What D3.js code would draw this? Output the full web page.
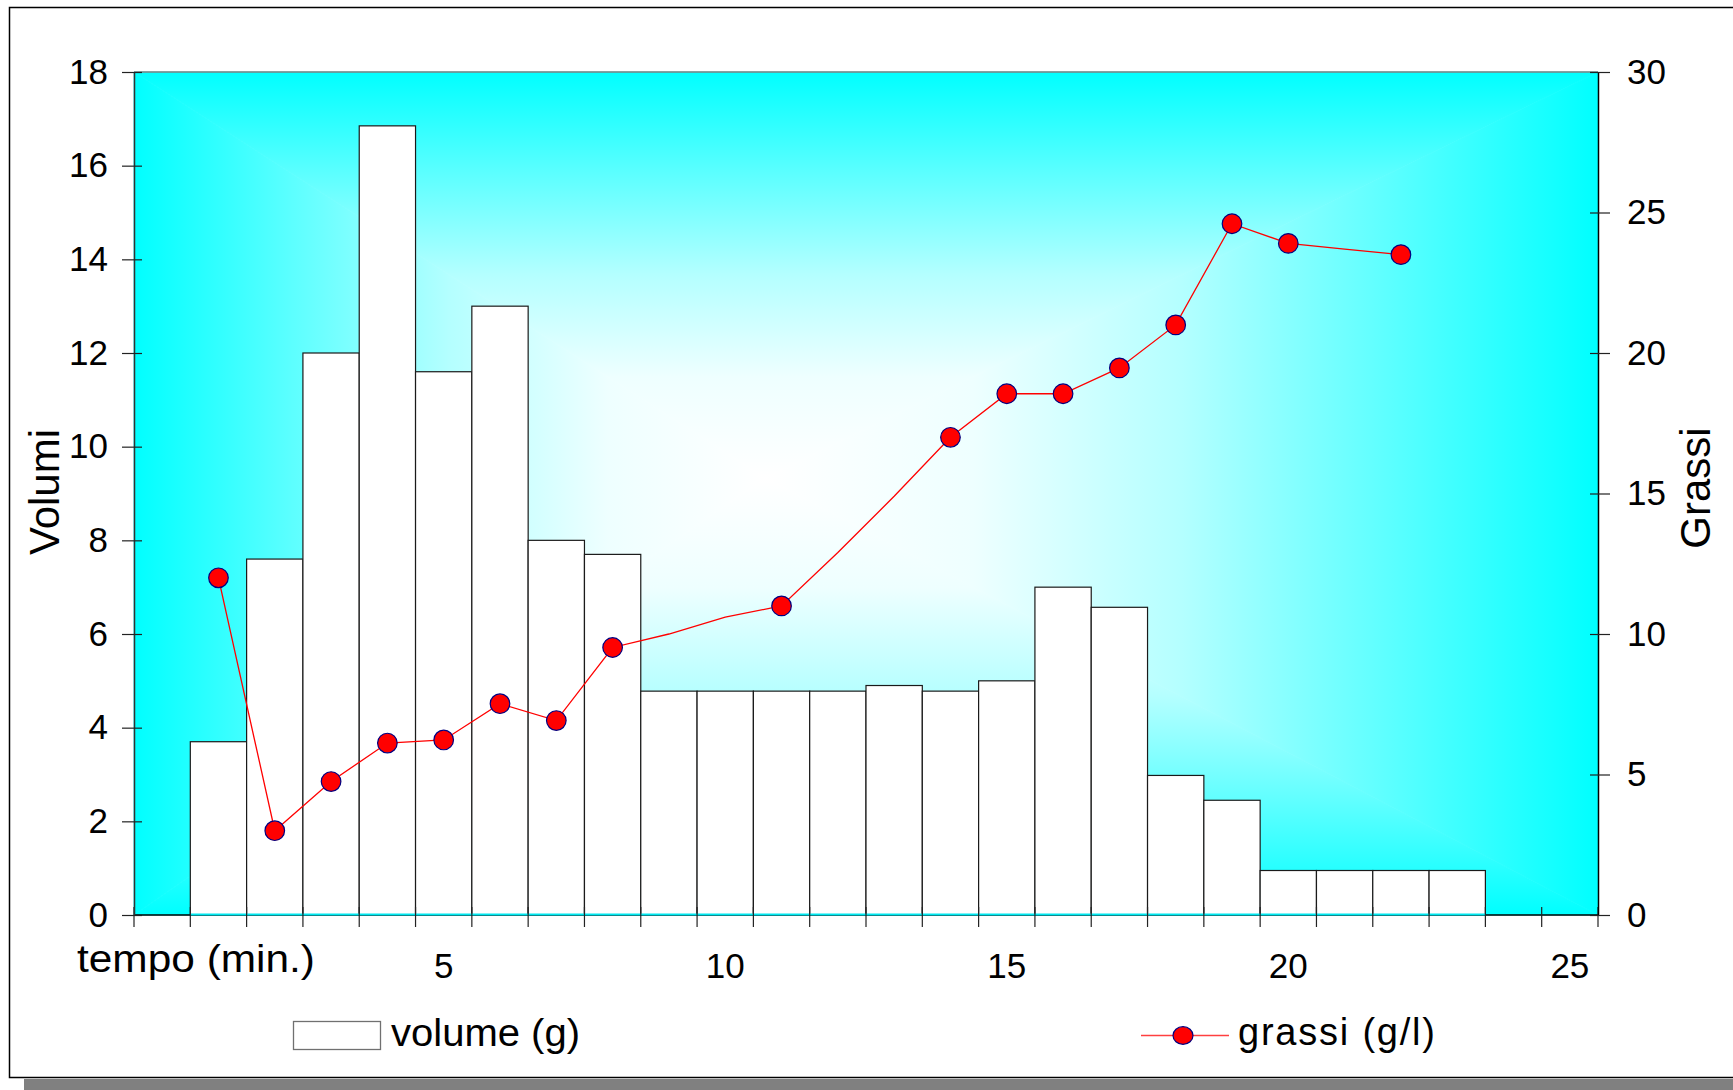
<!DOCTYPE html>
<html>
<head>
<meta charset="utf-8">
<script src="https://cdn.jsdelivr.net/npm/d3@7"></script>
<style>
  html, body { margin: 0; padding: 0; background: #ffffff; }
  svg { display: block; }
  text { font-family: "Liberation Sans", Arial, sans-serif; fill: #000; }
</style>
</head>
<body>
<svg id="chart" width="1733" height="1090"></svg>
<script>
// ---- data ----
const categories = d3.range(0, 26);            // tempo (min.) 0..25
const volumes = [null, 3.7, 7.6, 12.0, 16.85, 11.6, 13.0, 8.0, 7.7, 4.78, 4.78, 4.78, 4.78, 4.9, 4.78, 5.0, 7.0, 6.57, 2.98, 2.45, 0.95, 0.95, 0.95, 0.95, null, null];
const grassi = [null, 12.0, 3.0, 4.75, 6.12, 6.23, 7.52, 6.92, 9.52, 10.0, 10.6, 11.0, 12.9, 14.9, 17.0, 18.55, 18.55, 19.47, 21.0, 24.6, 23.9, 23.7, 23.5, null, null, null];
const grassiMarker = [false, true, true, true, true, true, true, true, true, false, false, true, false, false, true, true, true, true, true, true, true, false, true, false, false, false];
const xTickLabels = [5, 10, 15, 20, 25];
const yLeftTicks = [0, 2, 4, 6, 8, 10, 12, 14, 16, 18];
const yRightTicks = [0, 5, 10, 15, 20, 25, 30];
const xTitle = "tempo (min.)";
const yLeftTitle = "Volumi";
const yRightTitle = "Grassi";
const legendVolume = "volume (g)";
const legendGrassi = "grassi (g/l)";

// ---- layout ----
const svg = d3.select("#chart");
const X0 = 134, X1 = 1598, Y0 = 72, Y1 = 915;

const x = d3.scaleBand().domain(categories).range([X0, X1]).paddingInner(0).paddingOuter(0);
const yL = d3.scaleLinear().domain([0, 18]).range([Y1, Y0]);
const yR = d3.scaleLinear().domain([0, 30]).range([Y1, Y0]);
const bw = x.bandwidth();

// outer frame + shadow
svg.append("rect").attr("x", 24).attr("y", 1079).attr("width", 1760).attr("height", 14).attr("fill", "#808080");
svg.append("rect").attr("x", 9.5).attr("y", 7.5).attr("width", 1800).attr("height", 1070)
  .attr("fill", "#ffffff").attr("stroke", "#000").attr("stroke-width", 1.5);

// rectangular gradient background (4 triangles with linear gradients)
const defs = svg.append("defs");
const cx = 765, cy = 478;
const stops = [[0, "#ffffff"], [0.25, "#eeffff"], [0.5, "#b4ffff"], [0.75, "#5cffff"], [1, "#00ffff"]];
const tris = [
  { id: "gT", pts: [[X0, Y0], [X1, Y0], [cx, cy]], g: [cx, cy, cx, Y0] },
  { id: "gB", pts: [[X0, Y1], [X1, Y1], [cx, cy]], g: [cx, cy, cx, Y1] },
  { id: "gL", pts: [[X0, Y0], [X0, Y1], [cx, cy]], g: [cx, cy, X0, cy] },
  { id: "gR", pts: [[X1, Y0], [X1, Y1], [cx, cy]], g: [cx, cy, X1, cy] }
];
tris.forEach(t => {
  const lg = defs.append("linearGradient").attr("id", t.id).attr("gradientUnits", "userSpaceOnUse")
    .attr("x1", t.g[0]).attr("y1", t.g[1]).attr("x2", t.g[2]).attr("y2", t.g[3]);
  stops.forEach(s => lg.append("stop").attr("offset", s[0]).attr("stop-color", s[1]));
  svg.append("polygon").attr("points", t.pts.map(p => p.join(",")).join(" "))
    .attr("fill", `url(#${t.id})`).attr("stroke", `url(#${t.id})`).attr("stroke-width", 0.8);
});

// plot border lines
svg.append("line").attr("x1", X0).attr("x2", X1).attr("y1", Y0).attr("y2", Y0).attr("stroke", "#808080").attr("stroke-width", 1.5);
svg.append("line").attr("x1", X0).attr("x2", X1).attr("y1", Y1).attr("y2", Y1).attr("stroke", "#000").attr("stroke-width", 1.5);

// bars
const barData = categories.map((c, i) => ({ c, v: volumes[i] })).filter(d => d.v != null);
svg.append("g").selectAll("rect").data(barData).join("rect")
  .attr("x", d => x(d.c)).attr("y", d => yL(d.v))
  .attr("width", bw).attr("height", d => Y1 - yL(d.v))
  .attr("fill", "#ffffff").attr("stroke", "#1a1a1a").attr("stroke-width", 1.2);
// light baseline under the bars
svg.append("line").attr("x1", x(barData[0].c)).attr("x2", x(barData[barData.length - 1].c) + bw)
  .attr("y1", Y1 - 0.5).attr("y2", Y1 - 0.5).attr("stroke", "#00e8f0").attr("stroke-width", 2);

// x ticks at category boundaries
const bounds = categories.map(c => x(c)).concat([X1]);
svg.append("g").selectAll("line").data(bounds).join("line")
  .attr("x1", d => d).attr("x2", d => d).attr("y1", Y1 - 8).attr("y2", Y1 + 12)
  .attr("stroke", "#222").attr("stroke-width", 1.2);

// x labels
const xAxis = d3.axisBottom(x).tickValues(xTickLabels).tickSize(0).tickPadding(38);
const gx = svg.append("g").attr("transform", `translate(0,${Y1})`).call(xAxis);
gx.select(".domain").remove();
gx.selectAll("text").attr("font-size", 35).style("font-family", '"Liberation Sans", Arial, sans-serif');

// left axis
const gl = svg.append("g").attr("transform", `translate(${X0},0)`)
  .call(d3.axisLeft(yL).tickValues(yLeftTicks).tickSizeInner(12).tickSizeOuter(0).tickPadding(14));
gl.select(".domain").attr("stroke", "#333").attr("stroke-width", 1.5);
gl.selectAll(".tick line").attr("x1", 8).attr("stroke", "#222").attr("stroke-width", 1.2);
gl.selectAll("text").attr("font-size", 35).style("font-family", '"Liberation Sans", Arial, sans-serif');

// right axis
const gr = svg.append("g").attr("transform", `translate(${X1},0)`)
  .call(d3.axisRight(yR).tickValues(yRightTicks).tickSizeInner(12).tickSizeOuter(0).tickPadding(17));
gr.select(".domain").attr("stroke", "#000").attr("stroke-width", 1.5);
gr.selectAll(".tick line").attr("x1", -8).attr("stroke", "#222").attr("stroke-width", 1.2);
gr.selectAll("text").attr("font-size", 35).style("font-family", '"Liberation Sans", Arial, sans-serif');

// grassi line
const lineData = categories.map((c, i) => ({ c, v: grassi[i], m: grassiMarker[i] })).filter(d => d.v != null);
const line = d3.line().x(d => x(d.c) + bw / 2).y(d => yR(d.v));
svg.append("path").datum(lineData).attr("d", line)
  .attr("fill", "none").attr("stroke", "#ff0000").attr("stroke-width", 1.3);
svg.append("g").selectAll("circle").data(lineData.filter(d => d.m)).join("circle")
  .attr("cx", d => x(d.c) + bw / 2).attr("cy", d => yR(d.v)).attr("r", 9.8)
  .attr("fill", "#ff0000").attr("stroke", "#000080").attr("stroke-width", 1.2);

// titles
svg.append("text").attr("x", 77).attr("y", 972).attr("font-size", 39)
  .attr("textLength", 238).attr("lengthAdjust", "spacingAndGlyphs").text(xTitle);
svg.append("text").attr("transform", "translate(59,492) rotate(-90)").attr("text-anchor", "middle")
  .attr("font-size", 42).text(yLeftTitle);
svg.append("text").attr("transform", "translate(1710,488) rotate(-90)").attr("text-anchor", "middle")
  .attr("font-size", 42).text(yRightTitle);

// legend
svg.append("rect").attr("x", 293.5).attr("y", 1021.5).attr("width", 87).attr("height", 28)
  .attr("fill", "#fff").attr("stroke", "#707070").attr("stroke-width", 1.3);
svg.append("text").attr("x", 391).attr("y", 1046).attr("font-size", 38)
  .attr("textLength", 189).attr("lengthAdjust", "spacingAndGlyphs").text(legendVolume);
svg.append("line").attr("x1", 1141).attr("x2", 1229).attr("y1", 1035.5).attr("y2", 1035.5)
  .attr("stroke", "#ff4040").attr("stroke-width", 1.3);
svg.append("ellipse").attr("cx", 1183).attr("cy", 1035.5).attr("rx", 10).attr("ry", 8.8)
  .attr("fill", "#ff0000").attr("stroke", "#000080").attr("stroke-width", 1.2);
svg.append("text").attr("x", 1238).attr("y", 1045).attr("font-size", 38)
  .attr("textLength", 197).attr("lengthAdjust", "spacing").text(legendGrassi);
</script>
</body>
</html>
